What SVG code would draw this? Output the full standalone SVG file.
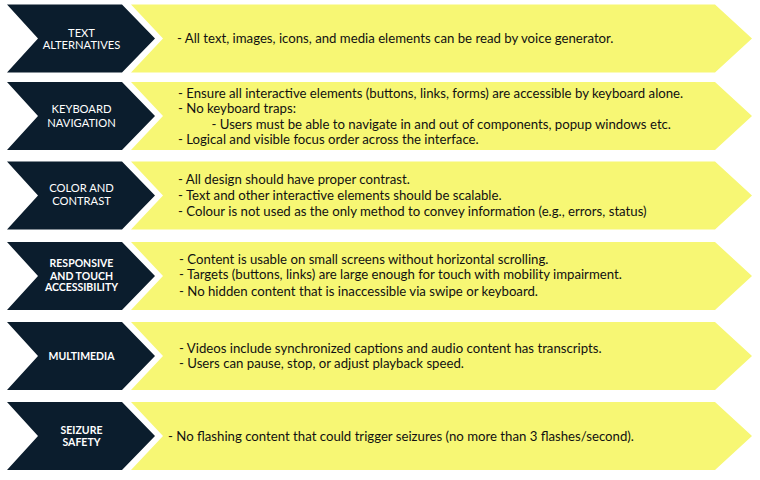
<svg xmlns="http://www.w3.org/2000/svg" width="760" height="480" viewBox="0 0 760 480">
<defs>
<style>
.bg{fill:#ffffff}
.lab{fill:#0b1d2d}
.box{fill:#f7f774}
.lt{font-family:Lato,"Liberation Sans",sans-serif;font-size:11.2px;fill:#ffffff;text-anchor:middle}
.lb{font-family:Lato,"Liberation Sans",sans-serif;font-size:10.5px;font-weight:bold;fill:#ffffff;text-anchor:middle}
.tx{font-family:Lato,"Liberation Sans",sans-serif;font-size:13.2px;fill:#111111}
</style>
<path id="chev" d="M7,0 H122 L155,34 L122,68 H7 L38,34 Z"/>
<path id="panel" d="M131,0 H715 L752,34 L715,68 H131 L163,34 Z"/>
</defs>
<rect class="bg" x="0" y="0" width="760" height="480"/>
<g id="connectors"></g>
<g id="row1" transform="translate(0,4.5)">
<use href="#panel" class="box"/>
<use href="#chev" class="lab"/>
<text class="lt" x="81.5" y="32">TEXT</text>
<text class="lt" x="81.5" y="44.5">ALTERNATIVES</text>
<text class="tx" x="177" y="38.5">- All text, images, icons, and media elements can be read by voice generator.</text>
</g>
<g id="row2" transform="translate(0,82)">
<use href="#panel" class="box"/>
<use href="#chev" class="lab"/>
<text class="lt" x="81.5" y="31">KEYBOARD</text>
<text class="lt" x="81.5" y="44.5">NAVIGATION</text>
<text class="tx" x="178" y="15.5">- Ensure all interactive elements (buttons, links, forms) are accessible by keyboard alone.</text>
<text class="tx" x="178" y="30.5">- No keyboard traps:</text>
<text class="tx" x="211.5" y="47">- Users must be able to navigate in and out of components, popup windows etc.</text>
<text class="tx" x="178" y="62">- Logical and visible focus order across the interface.</text>
</g>
<g id="row3" transform="translate(0,161.5)">
<use href="#panel" class="box"/>
<use href="#chev" class="lab"/>
<text class="lt" x="81.5" y="30.5">COLOR AND</text>
<text class="lt" x="81.5" y="43.5">CONTRAST</text>
<text class="tx" x="178" y="22.5">- All design should have proper contrast.</text>
<text class="tx" x="178" y="38">- Text and other interactive elements should be scalable.</text>
<text class="tx" x="178" y="54">- Colour is not used as the only method to convey information (e.g., errors, status)</text>
</g>
<g id="row4" transform="translate(0,242)">
<use href="#panel" class="box"/>
<use href="#chev" class="lab"/>
<text class="lb" x="81.5" y="25">RESPONSIVE</text>
<text class="lb" x="81.5" y="37.5">AND TOUCH</text>
<text class="lb" x="81.5" y="49">ACCESSIBILITY</text>
<text class="tx" x="179" y="22">- Content is usable on small screens without horizontal scrolling.</text>
<text class="tx" x="179" y="37">- Targets (buttons, links) are large enough for touch with mobility impairment.</text>
<text class="tx" x="179" y="53.5">- No hidden content that is inaccessible via swipe or keyboard.</text>
</g>
<g id="row5" transform="translate(0,322)">
<use href="#panel" class="box"/>
<use href="#chev" class="lab"/>
<text class="lb" x="81.5" y="37.5">MULTIMEDIA</text>
<text class="tx" x="179" y="30.5">- Videos include synchronized captions and audio content has transcripts.</text>
<text class="tx" x="179" y="45.5">- Users can pause, stop, or adjust playback speed.</text>
</g>
<g id="row6" transform="translate(0,402)">
<use href="#panel" class="box"/>
<use href="#chev" class="lab"/>
<text class="lb" x="81.5" y="31.5">SEIZURE</text>
<text class="lb" x="81.5" y="43.5">SAFETY</text>
<text class="tx" x="168" y="38.5">- No flashing content that could trigger seizures (no more than 3 flashes/second).</text>
</g>
</svg>
